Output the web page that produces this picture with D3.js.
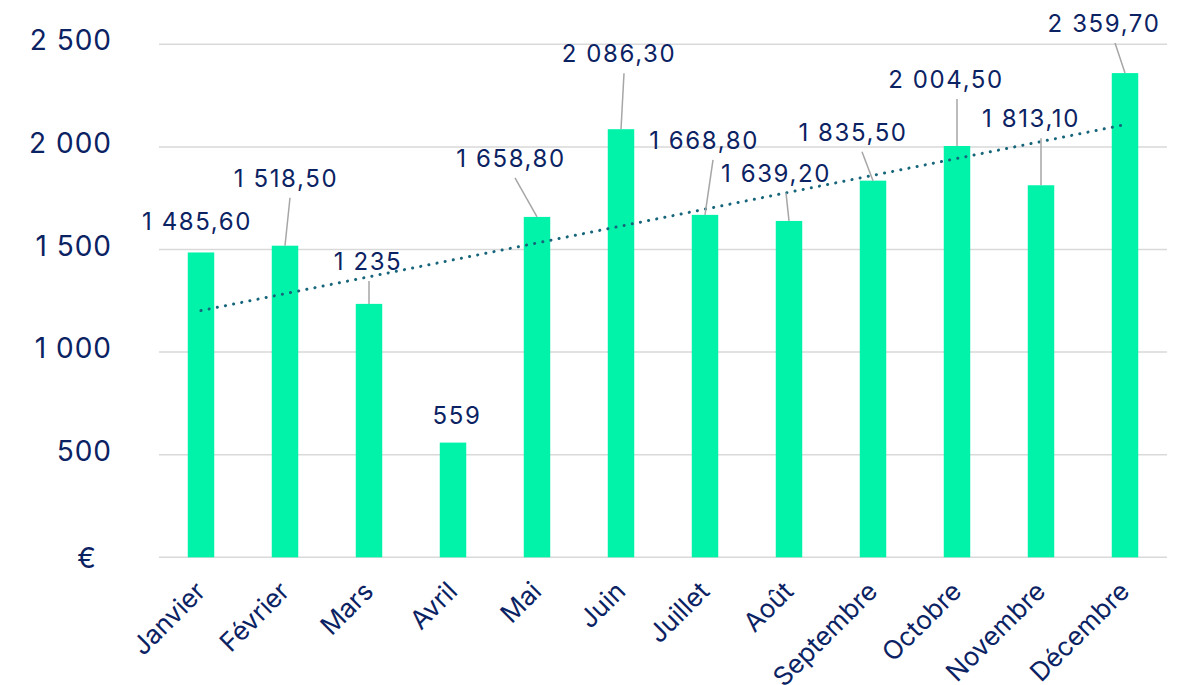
<!DOCTYPE html>
<html>
<head>
<meta charset="utf-8">
<script src="https://cdn.jsdelivr.net/npm/d3@7"></script>
<style>
  html, body { margin: 0; padding: 0; background: #fff; }
  svg text { font-family: "Inter", "DejaVu Sans", sans-serif; fill: #0b2263; }
</style>
</head>
<body>
<svg id="chart" width="1192" height="685"></svg>
<script>

// data
var months = ["Janvier", "Février", "Mars", "Avril", "Mai", "Juin",
    "Juillet", "Août", "Septembre", "Octobre", "Novembre", "Décembre"];
var amounts = [1485.6, 1518.5, 1235, 559, 1658.8, 2086.3,
    1668.8, 1639.2, 1835.5, 2004.5, 1813.1, 2359.7];
var yTicks = [0, 500, 1000, 1500, 2000, 2500];

// where each data label was dragged to (offset from the bar top), and if it has a leader line
var labelMoves = [
    {dx: -5, dy: -22, leader: false},
    {dx: 0, dy: -59, leader: true, lx: 5},
    {dx: -2, dy: -34, leader: true, lx: 2},
    {dx: 3, dy: -19, leader: false},
    {dx: -27, dy: -50, leader: true, lx: 5},
    {dx: -3, dy: -67, leader: true, lx: 6},
    {dx: -2, dy: -66, leader: true, lx: 10},
    {dx: -14, dy: -39, leader: true, lx: 11},
    {dx: -21, dy: -40, leader: true, lx: 10},
    {dx: -12, dy: -58, leader: true, lx: 12},
    {dx: -11, dy: -58, leader: true, lx: 11},
    {dx: -22, dy: -41, leader: true, lx: 12}
];

var fr = d3.formatLocale({decimal: ",", thousands: "\u00a0", grouping: [3], currency: ["", " €"]});
var fmtInt = fr.format(",d");
var fmtDec = fr.format(",.2f");

function fmtValue(v) {
    return Number.isInteger(v) ? fmtInt(v) : fmtDec(v);
}

var svg = d3.select("#chart");

var plotLeft = 159, plotRight = 1167, plotTop = 44.3, plotBottom = 557.3;

var x = d3.scaleBand()
    .domain(months)
    .range([plotLeft, plotRight])
    .paddingInner(0.685)
    .paddingOuter(0.3425);

var y = d3.scaleLinear()
    .domain([0, 2500])
    .range([plotBottom, plotTop]);

// gridlines
svg.append("g")
    .selectAll("line")
    .data(yTicks)
    .enter()
    .append("line")
    .attr("x1", plotLeft)
    .attr("x2", plotRight)
    .attr("y1", function (d) { return y(d); })
    .attr("y2", function (d) { return y(d); })
    .style("stroke", "#d9d9d9")
    .style("stroke-width", 1.5);

// y axis labels
var yAxis = d3.axisLeft(y)
    .tickValues(yTicks)
    .tickSize(0)
    .tickPadding(0)
    .tickFormat(function (d) { return d === 0 ? "€" : fmtInt(d); });

var yG = svg.append("g")
    .attr("transform", "translate(112,0)")
    .call(yAxis);
yG.select(".domain").remove();
yG.selectAll("text")
    .style("font-size", "28px")
    .style("letter-spacing", "1px")
    .attr("dy", function (d) { return d === 0 ? "0.35em" : "0.2em"; })
    .attr("x", function (d) { return d === 0 ? -15 : 0; });

// bars
svg.append("g")
    .selectAll("rect")
    .data(amounts)
    .enter()
    .append("rect")
    .attr("x", function (d, i) { return x(months[i]); })
    .attr("y", function (d) { return y(d); })
    .attr("width", x.bandwidth())
    .attr("height", function (d) { return y(0) - y(d); })
    .style("fill", "#00f3a9");

// linear trend line (least squares over the months)
var n = amounts.length;
var meanX = (n + 1) / 2;
var meanY = d3.mean(amounts);
var sxy = d3.sum(amounts, function (d, i) { return (i + 1 - meanX) * (d - meanY); });
var sxx = d3.sum(amounts, function (d, i) { return (i + 1 - meanX) * (i + 1 - meanX); });
var slope = sxy / sxx;
var intercept = meanY - slope * meanX;

function mid(i) { return x(months[i]) + x.bandwidth() / 2; }

var trend = [
    [mid(0), y(intercept + slope * 1)],
    [mid(n - 1), y(intercept + slope * n)]
];

svg.append("path")
    .attr("d", d3.line()(trend))
    .style("fill", "none")
    .style("stroke", "#16657b")
    .style("stroke-width", 3)
    .style("stroke-linecap", "round")
    .style("stroke-dasharray", "0.1 8.2");

// data labels + leader lines
var labels = svg.append("g");

amounts.forEach(function (v, i) {
    var m = labelMoves[i];
    var cx = mid(i) + m.dx;
    var by = y(v) + m.dy;

    if (m.leader) {
        labels.append("line")
            .attr("x1", cx + m.lx)
            .attr("y1", by + 11)
            .attr("x2", mid(i))
            .attr("y2", y(v))
            .style("stroke", "#a6a6a6")
            .style("stroke-width", 1.5);
    }

    labels.append("text")
        .attr("x", cx + 1)
        .attr("y", by)
        .attr("text-anchor", "middle")
        .style("font-size", "24px")
        .style("letter-spacing", "1.6px")
        .text(fmtValue(v));
});

// month labels, rotated
svg.append("g")
    .selectAll("text")
    .data(months)
    .enter()
    .append("text")
    .attr("text-anchor", "end")
    .attr("transform", function (d, i) {
        return "translate(" + (mid(i) + 6) + "," + 593 + ") rotate(-45)";
    })
    .style("font-size", "26px")
    .text(function (d) { return d; });

</script>
</body>
</html>
